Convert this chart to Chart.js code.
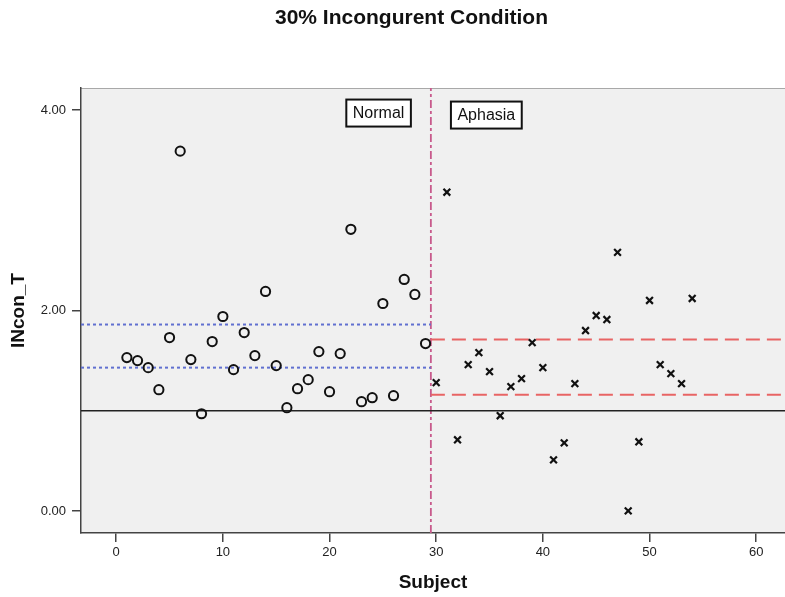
<!DOCTYPE html>
<html>
<head>
<meta charset="utf-8">
<script src="https://cdn.jsdelivr.net/npm/chart.js@4/dist/chart.umd.min.js"></script>
<style>
  html, body { margin: 0; padding: 0; background: #ffffff; }
  #wrap { width: 785px; height: 597px; }
</style>
</head>
<body>
<div id="wrap"><canvas id="c" width="785" height="597"></canvas></div>
<script>
// ---- data ----
const normalSubjects = [1,2,3,4,5,6,7,8,9,10,11,12,13,14,15,16,17,18,19,20,21,22,23,24,25,26,27,28,29];
const normalValues   = [1.53,1.50,1.43,1.21,1.73,3.59,1.51,0.97,1.69,1.94,1.41,1.78,1.55,2.19,1.45,1.03,1.22,1.31,1.59,1.19,1.57,2.81,1.09,1.13,2.07,1.15,2.31,2.16,1.67];
const aphasiaSubjects = [30,31,32,33,34,35,36,37,38,39,40,41,42,43,44,45,46,47,48,49,50,51,52,53,54];
const aphasiaValues   = [1.28,3.18,0.71,1.46,1.58,1.39,0.95,1.24,1.32,1.68,1.43,0.51,0.68,1.27,1.80,1.95,1.91,2.58,0.00,0.69,2.10,1.46,1.37,1.27,2.12];

const referenceLine = 1.0;             // solid black line
const normalBand    = [1.86, 1.43];    // blue dotted lines (Normal group)
const aphasiaBand   = [1.71, 1.16];    // red dashed lines (Aphasia group)
const groupDivider  = 29.5;            // vertical dashed line

const xRange = [-3.3, 62.7];
const yRange = [-0.22, 4.22];
const xTicks = [0, 10, 20, 30, 40, 50, 60];
const yTicks = [0, 2, 4];

const groupLabels = ['Normal', 'Aphasia'];
const groupLabelAnchorX = [24.6, 34.7];
const groupLabelAnchorY = [3.97, 3.95];

// ---- helpers ----
const pts = (xs, ys) => xs.map((x, i) => ({ x: x, y: ys[i] }));
const FONT = "'Liberation Sans', Arial, sans-serif";

const plotFrame = {
  id: 'plotFrame',
  beforeDraw(chart) {
    const { ctx, chartArea: a } = chart;
    ctx.save();
    ctx.fillStyle = '#f0f0f0';
    ctx.fillRect(a.left, a.top, a.right - a.left, a.bottom - a.top);
    ctx.strokeStyle = '#a8a8a8';
    ctx.lineWidth = 1;
    ctx.beginPath();
    ctx.moveTo(a.left, a.top + 0.5);
    ctx.lineTo(a.right, a.top + 0.5);
    ctx.stroke();
    ctx.restore();
  }
};

const groupLabelBoxes = {
  id: 'groupLabelBoxes',
  afterDatasetsDraw(chart) {
    const { ctx, scales } = chart;
    ctx.save();
    ctx.font = '16px ' + FONT;
    ctx.textAlign = 'center';
    ctx.textBaseline = 'middle';
    groupLabels.forEach((t, i) => {
      const cx = scales.x.getPixelForValue(groupLabelAnchorX[i]);
      const cy = scales.y.getPixelForValue(groupLabelAnchorY[i]);
      const w = ctx.measureText(t).width + 13;
      const h = 27;
      ctx.fillStyle = '#ffffff';
      ctx.fillRect(cx - w / 2, cy - h / 2, w, h);
      ctx.strokeStyle = '#111111';
      ctx.lineWidth = 2;
      ctx.strokeRect(cx - w / 2, cy - h / 2, w, h);
      ctx.fillStyle = '#111111';
      ctx.fillText(t, cx, cy + 1);
    });
    ctx.restore();
  }
};

const lineDs = (data, color, dash, width) => ({
  type: 'scatter',
  data: data,
  showLine: true,
  borderColor: color,
  borderDash: dash,
  borderWidth: width,
  pointRadius: 0,
  pointHoverRadius: 0,
  fill: false,
  order: 2
});

new Chart(document.getElementById('c'), {
  type: 'scatter',
  data: {
    datasets: [
      {
        label: 'Normal',
        data: pts(normalSubjects, normalValues),
        pointStyle: 'circle',
        pointRadius: 4.6,
        borderWidth: 2,
        borderColor: '#111111',
        backgroundColor: 'rgba(0,0,0,0)',
        order: 0
      },
      {
        label: 'Aphasia',
        data: pts(aphasiaSubjects, aphasiaValues),
        pointStyle: 'crossRot',
        pointRadius: 4.8,
        borderWidth: 2.2,
        borderColor: '#111111',
        backgroundColor: '#111111',
        order: 0
      },
      lineDs(pts([xRange[0], xRange[1]], [referenceLine, referenceLine]), '#222222', [], 1.5),
      lineDs(pts([xRange[0], groupDivider], [normalBand[0], normalBand[0]]), '#6070d0', [3, 3], 2),
      lineDs(pts([xRange[0], groupDivider], [normalBand[1], normalBand[1]]), '#6070d0', [3, 3], 2),
      lineDs(pts([groupDivider, xRange[1]], [aphasiaBand[0], aphasiaBand[0]]), '#e86464', [14, 7], 2),
      lineDs(pts([groupDivider, xRange[1]], [aphasiaBand[1], aphasiaBand[1]]), '#e86464', [14, 7], 2),
      lineDs(pts([groupDivider, groupDivider], [yRange[0], yRange[1]]), '#c85a8c', [8, 3, 3, 3], 1.8)
    ]
  },
  options: {
    responsive: false,
    animation: false,
    events: [],
    layout: { autoPadding: false, padding: { left: 38, right: 0, top: 0, bottom: 0 } },
    plugins: {
      legend: { display: false },
      tooltip: { enabled: false },
      title: {
        display: true,
        text: '30% Incongurent Condition',
        color: '#111111',
        font: { family: FONT, size: 21, weight: 'bold' },
        padding: { top: 6, bottom: 56.8 }
      }
    },
    scales: {
      x: {
        type: 'linear',
        min: xRange[0],
        max: xRange[1],
        afterBuildTicks: (s) => { s.ticks = xTicks.map(v => ({ value: v })); },
        afterFit: (s) => { s.height = 64; s.paddingLeft = 0; s.paddingRight = 0; },
        ticks: {
          color: '#222222',
          font: { family: FONT, size: 13 },
          padding: 3,
          maxRotation: 0,
          callback: (v) => String(v)
        },
        grid: { display: true, drawOnChartArea: false, drawTicks: true, tickLength: 9, color: '#444444', lineWidth: 1.5 },
        border: { display: true, color: '#444444', width: 1.5 },
        title: {
          display: true,
          text: 'Subject',
          color: '#111111',
          font: { family: FONT, size: 19, weight: 'bold' },
          padding: { top: 0, bottom: 3 }
        }
      },
      y: {
        type: 'linear',
        min: yRange[0],
        max: yRange[1],
        afterBuildTicks: (s) => { s.ticks = yTicks.map(v => ({ value: v })); },
        afterFit: (s) => { s.width = 43; s.paddingTop = 0; s.paddingBottom = 0; },
        ticks: {
          color: '#222222',
          font: { family: FONT, size: 13 },
          padding: 6,
          callback: (v) => Number(v).toFixed(2)
        },
        grid: { display: true, drawOnChartArea: false, drawTicks: true, tickLength: 9, color: '#444444', lineWidth: 1.5 },
        border: { display: true, color: '#444444', width: 1.5 },
        title: {
          display: true,
          text: 'INcon_T',
          color: '#111111',
          font: { family: FONT, size: 19, weight: 'bold' },
          padding: { top: -30.4, bottom: 0 }
        }
      }
    }
  },
  plugins: [plotFrame, groupLabelBoxes]
});
</script>
</body>
</html>
